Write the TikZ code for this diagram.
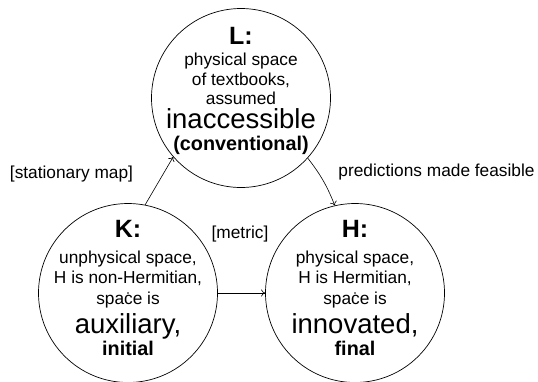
\documentclass[tikz,border=0pt]{standalone}
\usepackage{fontspec}
\setmainfont{Liberation Sans}
\usetikzlibrary{arrows.meta,shapes.geometric}
\begin{document}
\begin{tikzpicture}[x=1pt,y=-1pt,
  space/.style={circle,draw,line width=0.7pt,minimum size=179pt,inner sep=0pt},
  txt/.style={anchor=base,inner sep=0pt},
  hd/.style={txt,font=\fontsize{25}{25}\selectfont\bfseries},
  sm/.style={txt,font=\fontsize{17.3}{17.3}\selectfont},
  bg/.style={txt,font=\fontsize{27.5}{27.5}\selectfont},
  bd/.style={txt,font=\fontsize{19.8}{19.8}\selectfont\bfseries},
  conn/.style={line width=0.6pt,-{To[length=4pt,width=7pt]}}]
\useasboundingbox (0,0) rectangle (538,381);
% circles
\node[space] (L) at (241,98) {};
\node[space] (K) at (128,293) {};
\node[space] (H) at (355,293) {};
\fill (L) circle (0.9pt);
\fill (K) circle (0.9pt);
\fill (H) circle (0.9pt);
% L text
\node[hd] (l1) at (241,44) {L:};
\node[sm] (l2) at (241,65.5) {physical space};
\node[sm] (l3) at (241,85) {of textbooks,};
\node[sm] (l4) at (241,104) {assumed};
\node[bg] (l5) at (241,128) {inaccessible};
\node[bd] (l6) at (241,150) {(conventional)};
% K text
\node[hd] (k1) at (128,237) {K:};
\node[sm] (k2) at (128,263) {unphysical space,};
\node[sm] (k3) at (128,283) {H is non-Hermitian,};
\node[sm] (k4) at (128,304) {space is};
\node[bg] (k5) at (128,333) {auxiliary,};
\node[bd] (k6) at (128,355) {initial};
% H text
\node[hd] (h1) at (355,237) {H:};
\node[sm] (h2) at (355,263) {physical space,};
\node[sm] (h3) at (355,283) {H is Hermitian,};
\node[sm] (h4) at (355,304) {space is};
\node[bg] (h5) at (355,333) {innovated,};
\node[bd] (h6) at (355,355) {final};
% connector labels
\node[sm] (m1) at (71.5,178) {[stationary map]};
\node[sm] (m2) at (436.5,176) {predictions made feasible};
\node[sm] (m3) at (240,238) {[metric]};
% connectors
\draw[conn] (K.79) -- (L.221);
\draw[conn] (L.318) to[bend left=8] (H.103);
\draw[conn] (K.east) -- (H.west);
\end{tikzpicture}
\end{document}
